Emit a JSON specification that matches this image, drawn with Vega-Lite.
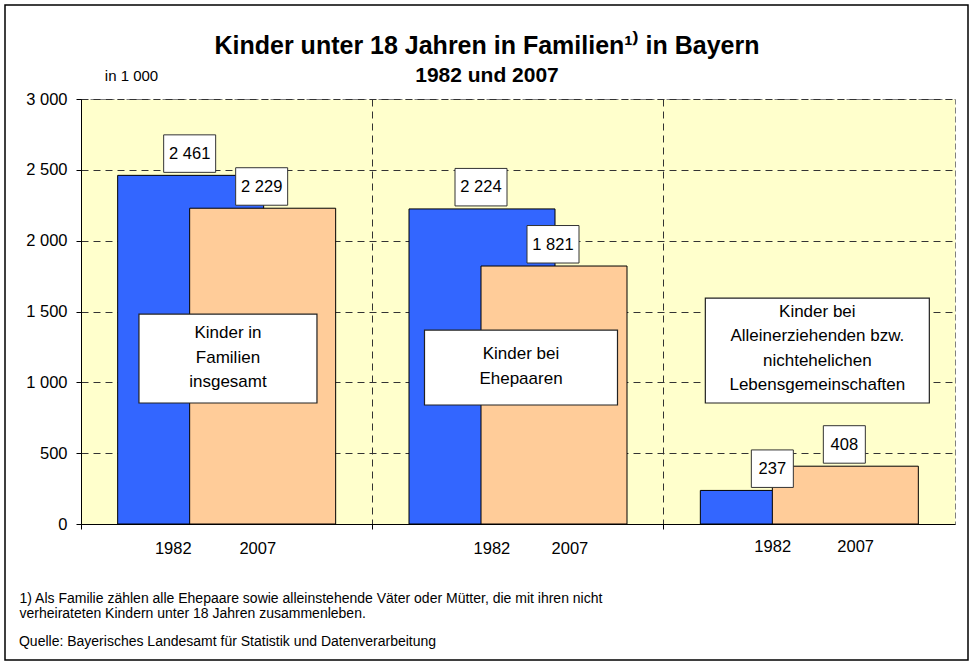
{
  "$schema": "https://vega.github.io/schema/vega-lite/v6.json",
  "width": 874,
  "height": 425,
  "autosize": {"type": "none"},
  "padding": {"left": 81, "top": 99, "right": 15, "bottom": 142},
  "background": "white",
  "title": {
    "text": "Kinder unter 18 Jahren in Familien¹⁾ in Bayern",
    "subtitle": "1982 und 2007",
    "anchor": "middle",
    "frame": "group",
    "dx": -31,
    "offset": -82,
    "font": "Liberation Sans",
    "fontSize": 25,
    "fontWeight": "bold",
    "color": "#000",
    "subtitleFont": "Liberation Sans",
    "subtitleFontSize": 21,
    "subtitleFontWeight": "bold",
    "subtitleColor": "#000",
    "subtitlePadding": 6
  },
  "datasets": {
    "kinder": [
      {"group": "insgesamt", "year": "1982", "value": 2461},
      {"group": "insgesamt", "year": "2007", "value": 2229},
      {"group": "Ehepaare", "year": "1982", "value": 2224},
      {"group": "Ehepaare", "year": "2007", "value": 1821},
      {"group": "Alleinerziehende", "year": "1982", "value": 237},
      {"group": "Alleinerziehende", "year": "2007", "value": 408}
    ]
  },
  "data": {"name": "kinder"},
  "layer": [
    {
      "transform": [{"filter": "datum.year === '1982'"}],
      "mark": {"type": "bar", "width": 146, "xOffset": -36, "fill": "#3366FF", "stroke": "#000", "strokeWidth": 1},
      "encoding": {
        "x": {
          "field": "group", "type": "nominal",
          "scale": {"type": "band", "domain": ["insgesamt", "Ehepaare", "Alleinerziehende"], "paddingInner": 0, "paddingOuter": 0},
          "axis": {
            "title": ["1) Als Familie zählen alle Ehepaare sowie alleinstehende Väter oder Mütter, die mit ihren nicht", "verheirateten Kindern unter 18 Jahren zusammenleben."],
            "labels": false,
            "ticks": true,
            "tickSize": 5,
            "bandPosition": 0,
            "grid": true,
            "gridDash": [7, 5],
            "gridColor": "#333",
            "gridWidth": 1,
            "domainColor": "#000",
            "tickColor": "#000",
            "titleAnchor": "start",
            "titleAlign": "left",
            "titleX": -62,
            "titleY": 78,
            "titleBaseline": "alphabetic",
            "titleFont": "Liberation Sans",
            "titleFontSize": 14,
            "titleFontWeight": "normal",
            "titleColor": "#000",
            "titleLineHeight": 15.5
          }
        },
        "y": {
          "field": "value", "type": "quantitative",
          "scale": {"domain": [0, 3000], "nice": false},
          "axis": {
            "title": "in 1 000",
            "values": [0, 500, 1000, 1500, 2000, 2500, 3000],
            "format": ",d",
            "grid": true,
            "gridDash": [7, 5],
            "gridColor": "#333",
            "gridWidth": 1,
            "tickSize": 5,
            "labelPadding": 9,
            "labelFont": "Liberation Sans",
            "labelFontSize": 16.5,
            "labelColor": "#000",
            "domainColor": "#000",
            "tickColor": "#000",
            "titleAngle": 0,
            "titleAlign": "center",
            "titleBaseline": "middle",
            "titleX": 50,
            "titleY": -24,
            "titleFont": "Liberation Sans",
            "titleFontSize": 15,
            "titleFontWeight": "normal",
            "titleColor": "#000"
          }
        }
      }
    },
    {
      "transform": [{"filter": "datum.year === '2007'"}],
      "mark": {"type": "bar", "width": 146, "xOffset": 36, "fill": "#FFCC99", "stroke": "#000", "strokeWidth": 1},
      "encoding": {
        "x": {"field": "group", "type": "nominal"},
        "y": {"field": "value", "type": "quantitative"}
      }
    },
    {
      "transform": [{"filter": "datum.year === '1982'"}],
      "mark": {"type": "bar", "xOffset": -37, "yOffset": -40.5, "y2Offset": -3, "fill": "#fff", "stroke": "#333", "strokeWidth": 1},
      "encoding": {
        "x": {"field": "group", "type": "nominal"},
        "y": {"field": "value", "type": "quantitative"},
        "y2": {"field": "value"},
        "size": {"condition": {"test": "datum.value >= 1000", "value": 52}, "value": 42}
      }
    },
    {
      "transform": [{"filter": "datum.year === '2007'"}],
      "mark": {"type": "bar", "xOffset": 35, "yOffset": -40.5, "y2Offset": -3, "fill": "#fff", "stroke": "#333", "strokeWidth": 1},
      "encoding": {
        "x": {"field": "group", "type": "nominal"},
        "y": {"field": "value", "type": "quantitative"},
        "y2": {"field": "value"},
        "size": {"condition": {"test": "datum.value >= 1000", "value": 52}, "value": 42}
      }
    },
    {
      "transform": [{"filter": "datum.year === '1982'"}],
      "mark": {"type": "text", "xOffset": -37, "yOffset": -21.5, "baseline": "middle", "align": "center", "font": "Liberation Sans", "fontSize": 16.5, "color": "#000"},
      "encoding": {
        "x": {"field": "group", "type": "nominal"},
        "y": {"field": "value", "type": "quantitative"},
        "text": {"field": "value", "type": "quantitative", "format": ",d"}
      }
    },
    {
      "transform": [{"filter": "datum.year === '2007'"}],
      "mark": {"type": "text", "xOffset": 35, "yOffset": -21.5, "baseline": "middle", "align": "center", "font": "Liberation Sans", "fontSize": 16.5, "color": "#000"},
      "encoding": {
        "x": {"field": "group", "type": "nominal"},
        "y": {"field": "value", "type": "quantitative"},
        "text": {"field": "value", "type": "quantitative", "format": ",d"}
      }
    },
    {
      "data": {"values": [{"group": "insgesamt"}]},
      "mark": {"type": "bar", "width": 178, "xOffset": 1.3, "fill": "#fff", "stroke": "#222", "strokeWidth": 1.2},
      "encoding": {
        "x": {"field": "group", "type": "nominal"},
        "y": {"datum": 1482},
        "y2": {"datum": 854}
      }
    },
    {
      "data": {"values": [{"group": "insgesamt"}]},
      "mark": {"type": "text", "xOffset": 1.3, "text": ["Kinder in", "Familien", "insgesamt"], "lineHeight": 24.5, "baseline": "middle", "align": "center", "font": "Liberation Sans", "fontSize": 17, "color": "#000"},
      "encoding": {
        "x": {"field": "group", "type": "nominal"},
        "y": {"datum": 1348}
      }
    },
    {
      "data": {"values": [{"group": "Ehepaare"}]},
      "mark": {"type": "bar", "width": 193, "xOffset": 3, "fill": "#fff", "stroke": "#222", "strokeWidth": 1.2},
      "encoding": {
        "x": {"field": "group", "type": "nominal"},
        "y": {"datum": 1369},
        "y2": {"datum": 840}
      }
    },
    {
      "data": {"values": [{"group": "Ehepaare"}]},
      "mark": {"type": "text", "xOffset": 3, "text": ["Kinder bei", "Ehepaaren"], "lineHeight": 24.5, "baseline": "middle", "align": "center", "font": "Liberation Sans", "fontSize": 17, "color": "#000"},
      "encoding": {
        "x": {"field": "group", "type": "nominal"},
        "y": {"datum": 1200}
      }
    },
    {
      "data": {"values": [{"group": "Alleinerziehende"}]},
      "mark": {"type": "bar", "width": 224, "xOffset": 8, "fill": "#fff", "stroke": "#222", "strokeWidth": 1.2},
      "encoding": {
        "x": {"field": "group", "type": "nominal"},
        "y": {"datum": 1595},
        "y2": {"datum": 854}
      }
    },
    {
      "data": {"values": [{"group": "Alleinerziehende"}]},
      "mark": {"type": "text", "xOffset": 8, "text": ["Kinder bei", "Alleinerziehenden bzw.", "nichtehelichen", "Lebensgemeinschaften"], "lineHeight": 24.5, "baseline": "middle", "align": "center", "font": "Liberation Sans", "fontSize": 17, "color": "#000"},
      "encoding": {
        "x": {"field": "group", "type": "nominal"},
        "y": {"datum": 1499}
      }
    },
    {
      "transform": [{"filter": "datum.group === 'insgesamt' && datum.year === '1982'"}],
      "mark": {"type": "text", "xOffset": -53.4, "yOffset": 25, "baseline": "middle", "align": "center", "font": "Liberation Sans", "fontSize": 16.5, "color": "#000"},
      "encoding": {"x": {"field": "group", "type": "nominal"}, "y": {"datum": 0}, "text": {"field": "year"}}
    },
    {
      "transform": [{"filter": "datum.group === 'insgesamt' && datum.year === '2007'"}],
      "mark": {"type": "text", "xOffset": 31.1, "yOffset": 25, "baseline": "middle", "align": "center", "font": "Liberation Sans", "fontSize": 16.5, "color": "#000"},
      "encoding": {"x": {"field": "group", "type": "nominal"}, "y": {"datum": 0}, "text": {"field": "year"}}
    },
    {
      "transform": [{"filter": "datum.group === 'Ehepaare' && datum.year === '1982'"}],
      "mark": {"type": "text", "xOffset": -26.1, "yOffset": 25, "baseline": "middle", "align": "center", "font": "Liberation Sans", "fontSize": 16.5, "color": "#000"},
      "encoding": {"x": {"field": "group", "type": "nominal"}, "y": {"datum": 0}, "text": {"field": "year"}}
    },
    {
      "transform": [{"filter": "datum.group === 'Ehepaare' && datum.year === '2007'"}],
      "mark": {"type": "text", "xOffset": 51.9, "yOffset": 25, "baseline": "middle", "align": "center", "font": "Liberation Sans", "fontSize": 16.5, "color": "#000"},
      "encoding": {"x": {"field": "group", "type": "nominal"}, "y": {"datum": 0}, "text": {"field": "year"}}
    },
    {
      "transform": [{"filter": "datum.group === 'Alleinerziehende' && datum.year === '1982'"}],
      "mark": {"type": "text", "xOffset": -36.6, "yOffset": 23, "baseline": "middle", "align": "center", "font": "Liberation Sans", "fontSize": 16.5, "color": "#000"},
      "encoding": {"x": {"field": "group", "type": "nominal"}, "y": {"datum": 0}, "text": {"field": "year"}}
    },
    {
      "transform": [{"filter": "datum.group === 'Alleinerziehende' && datum.year === '2007'"}],
      "mark": {"type": "text", "xOffset": 46.3, "yOffset": 23, "baseline": "middle", "align": "center", "font": "Liberation Sans", "fontSize": 16.5, "color": "#000"},
      "encoding": {"x": {"field": "group", "type": "nominal"}, "y": {"datum": 0}, "text": {"field": "year"}}
    },
    {
      "data": {"values": [{"group": "insgesamt", "quelle": "Quelle: Bayerisches Landesamt für Statistik und Datenverarbeitung"}]},
      "mark": {"type": "text", "xOffset": -207.7, "yOffset": 122, "baseline": "alphabetic", "align": "left", "font": "Liberation Sans", "fontSize": 14, "color": "#000"},
      "encoding": {"x": {"field": "group", "type": "nominal"}, "y": {"datum": 0}, "text": {"field": "quelle"}}
    },
    {
      "data": {"values": [{}]},
      "mark": {"type": "rect", "filled": false, "fill": null, "stroke": "#000", "strokeWidth": 1.5},
      "encoding": {
        "x": {"value": -76},
        "x2": {"value": 887},
        "y": {"value": -94},
        "y2": {"value": 561}
      }
    }
  ],
  "config": {
    "font": "Liberation Sans",
    "view": {"fill": "#FFFFCC", "stroke": "#808080", "strokeDash": [6, 3], "strokeWidth": 1},
    "locale": {
      "number": {"decimal": ",", "thousands": " ", "grouping": [3], "currency": ["", " €"]}
    }
  }
}
